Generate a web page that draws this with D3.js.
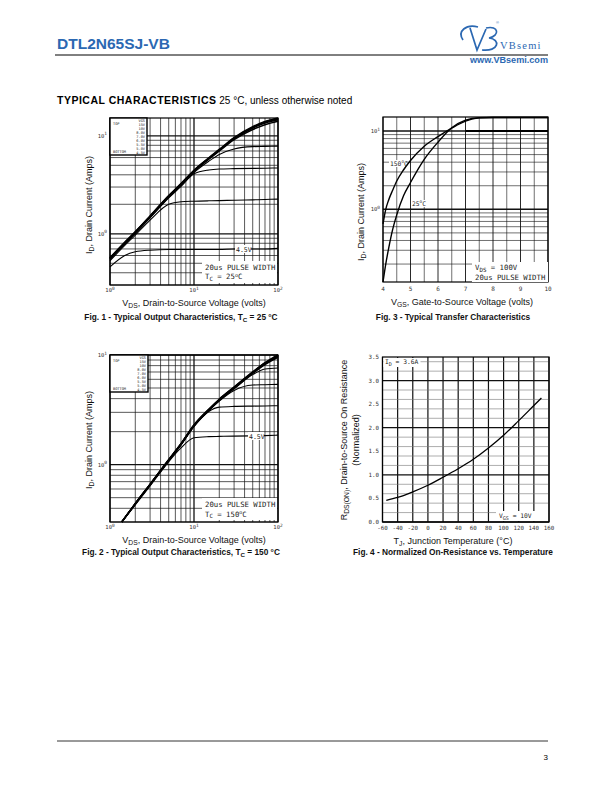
<!DOCTYPE html>
<html><head><meta charset="utf-8">
<script src="https://cdn.jsdelivr.net/npm/d3@7"></script>
<style>body{margin:0;background:#fff}svg{display:block}</style>
</head><body>
<script>
// ---------------- DATA ----------------
// Fig. 1 – output characteristics, Tc = 25 °C
const fig1Vds   = [1, 1.5, 2, 3, 5, 7, 10, 15, 20, 30, 50, 70, 100];
const fig1_15V  = [0.57, 0.82, 1.05, 1.52, 2.45, 3.25, 4.45, 5.95, 7.25, 9.60, 12.4, 14.0, 15.2];
const fig1_10V  = [0.565, 0.815, 1.04, 1.51, 2.43, 3.22, 4.41, 5.90, 7.18, 9.48, 12.2, 13.8, 14.9];
const fig1_8V   = [0.56, 0.81, 1.035, 1.50, 2.41, 3.19, 4.37, 5.84, 7.10, 9.35, 12.0, 13.5, 14.6];
const fig1_7V   = [0.555, 0.80, 1.03, 1.49, 2.39, 3.16, 4.33, 5.77, 7.00, 9.15, 11.6, 13.0, 14.1];
const fig1_6V   = [0.55, 0.795, 1.02, 1.47, 2.36, 3.10, 4.22, 5.50, 6.45, 7.35, 7.75, 7.80, 7.85];
const fig1_55V  = [0.545, 0.79, 1.01, 1.45, 2.32, 3.04, 4.10, 4.48, 4.58, 4.62, 4.65, 4.67, 4.70];
const fig1_5V   = [0.53, 0.76, 0.97, 1.38, 2.00, 2.12, 2.15, 2.17, 2.18, 2.20, 2.22, 2.24, 2.26];
const fig1_45V  = [0.46, 0.60, 0.655, 0.68, 0.69, 0.69, 0.69, 0.69, 0.69, 0.70, 0.70, 0.70, 0.71];
const legendVgs = ["VGS", "15V", "10V", "8.0V", "7.0V", "6.0V", "5.5V", "5.0V", "4.5V"];

// Fig. 2 – output characteristics, Tc = 150 °C
const fig2Vds   = [1.38, 2, 3, 4.5, 7, 10, 15, 20, 30, 50, 70, 100];
const fig2_15V  = [0.30, 0.44, 0.66, 1.00, 1.55, 2.30, 3.20, 3.95, 5.10, 7.00, 8.50, 10.0];
const fig2_10V  = [0.30, 0.44, 0.66, 1.00, 1.55, 2.29, 3.18, 3.93, 5.07, 6.95, 8.42, 9.88];
const fig2_8V   = [0.30, 0.44, 0.66, 0.99, 1.54, 2.28, 3.16, 3.90, 5.03, 6.88, 8.32, 9.74];
const fig2_7V   = [0.30, 0.44, 0.66, 0.99, 1.53, 2.27, 3.14, 3.87, 4.98, 6.80, 8.18, 9.52];
const fig2_6V   = [0.30, 0.44, 0.66, 0.99, 1.53, 2.26, 3.12, 3.84, 4.92, 6.62, 7.45, 7.60];
const fig2_55V  = [0.30, 0.44, 0.65, 0.99, 1.52, 2.25, 3.10, 3.80, 4.75, 5.32, 5.36, 5.40];
const fig2_5V   = [0.30, 0.44, 0.65, 0.98, 1.51, 2.22, 3.05, 3.35, 3.40, 3.42, 3.43, 3.45];
const fig2_45V  = [0.30, 0.43, 0.64, 0.96, 1.42, 1.76, 1.80, 1.81, 1.82, 1.83, 1.84, 1.86];

// Fig. 3 – transfer characteristics
const fig3Vgs   = [4.0, 4.1, 4.2, 4.35, 4.5, 4.75, 5.0, 5.5, 6.0, 6.5, 7.0, 7.5, 8.0, 9.0, 10.0];
const fig3_25C  = [0.118, 0.20, 0.31, 0.55, 0.85, 1.50, 2.20, 4.35, 7.20, 11.0, 13.8, 14.8, 14.9, 14.9, 14.9];
const fig3_150C = [0.65, 1.00, 1.30, 1.75, 2.30, 3.20, 4.20, 6.40, 8.50, 10.9, 13.4, 14.7, 14.9, 14.9, 14.9];

// Fig. 4 – normalized on-resistance vs temperature
const fig4Tj    = [-55, -40, -20, 0, 20, 40, 60, 80, 100, 120, 140, 150];
const fig4Rds   = [0.46, 0.52, 0.64, 0.78, 0.95, 1.13, 1.33, 1.57, 1.84, 2.15, 2.47, 2.63];
const fig4XTicks = [-60, -40, -20, 0, 20, 40, 60, 80, 100, 120, 140, 160];
const fig4YTicks = [0.0, 0.5, 1.0, 1.5, 2.0, 2.5, 3.0, 3.5];
const fig3XTicks = [4, 5, 6, 7, 8, 9, 10];

// ---------------- DRAWING ----------------
const sans = "Liberation Sans, Arial, Helvetica, sans-serif";
const mono = "DejaVu Sans Mono, Liberation Mono, monospace";
const blue = "#2b68b2";
const svg = d3.select("body").append("svg").attr("width", 612).attr("height", 792);

// header
svg.append("text").attr("x", 57).attr("y", 49).text("DTL2N65SJ-VB")
  .attr("font-family", sans).attr("font-weight", "bold").attr("font-size", 15.5).attr("fill", blue);
svg.append("line").attr("x1", 55).attr("x2", 548).attr("y1", 55).attr("y2", 55).attr("stroke", "#000").attr("stroke-width", 1);
svg.append("path").attr("d", "M463,40 C457,31 466,24 478,27 M470,28 L477,50 L486,29 M486,28 C499,25 500,36 489,38 C501,39 499,52 482,50")
  .attr("fill", "none").attr("stroke", blue).attr("stroke-width", 1.7);
svg.append("text").attr("x", 500).attr("y", 49).text("VBsemi").attr("font-family", "Liberation Serif, serif")
  .attr("font-size", 10.5).attr("letter-spacing", 1.2).attr("fill", blue);
svg.append("text").attr("x", 496).attr("y", 24).text("®").attr("font-family", sans).attr("font-size", 4).attr("fill", blue);
svg.append("text").attr("x", 470).attr("y", 63).text("www.VBsemi.com").attr("font-family", sans)
  .attr("font-weight", "bold").attr("font-size", 9).attr("fill", blue).attr("textLength", 78).attr("lengthAdjust", "spacingAndGlyphs");

// section title
const st = svg.append("text").attr("x", 57).attr("y", 104).attr("font-family", sans).attr("font-size", 10);
st.append("tspan").attr("font-weight", "bold").attr("font-size", 10.5).attr("letter-spacing", 0.5).text("TYPICAL CHARACTERISTICS");
st.append("tspan").text(" 25 °C, unless otherwise noted");

// footer
svg.append("line").attr("x1", 57).attr("x2", 548).attr("y1", 741).attr("y2", 741).attr("stroke", "#000").attr("stroke-width", 0.8);
svg.append("text").attr("x", 548).attr("y", 760).attr("text-anchor", "end").text("3")
  .attr("font-family", sans).attr("font-size", 8);

// helpers
function pow10Label(g, x, y, exp, anchor) {
  const t = g.append("text").attr("x", x).attr("y", y).attr("text-anchor", anchor || "middle")
    .attr("font-family", mono).attr("font-size", 5.5).attr("fill", "#333");
  t.append("tspan").text("10");
  t.append("tspan").attr("dy", -2.5).attr("font-size", 4.5).text(exp);
}
function whiteBox(g, x, y, w, h) {
  g.append("rect").attr("x", x).attr("y", y).attr("width", w).attr("height", h).attr("fill", "#fff");
}
function monoText(g, x, y, parts, size) {
  const t = g.append("text").attr("x", x).attr("y", y).attr("font-family", mono).attr("font-size", size || 7).attr("fill", "#222");
  parts.forEach(p => {
    const s = t.append("tspan").text(p.t);
    if (p.sub) s.attr("dy", 1.5).attr("font-size", (size || 7) * 0.8);
    if (p.sup) s.attr("dy", -2.5).attr("font-size", (size || 7) * 0.7);
    if (p.back) s.attr("dy", p.back);
  });
  return t;
}
function sansTitle(g, x, y, parts, size, rotate, bold) {
  const t = g.append("text").attr("x", x).attr("y", y).attr("text-anchor", "middle")
    .attr("font-family", sans).attr("font-size", size).attr("fill", "#111");
  if (bold) t.attr("font-weight", "bold");
  if (rotate) t.attr("transform", `rotate(-90,${x},${y})`);
  parts.forEach(p => {
    const s = t.append("tspan").text(p.t);
    if (p.sub) s.attr("dy", 2).attr("font-size", size * 0.75);
    if (p.back) s.attr("dy", p.back);
  });
}
const lineGen = (x, y) => d3.line().x(d => x(d[0])).y(d => y(d[1])).curve(d3.curveMonotoneX);

function legendBox(g, x0, y0, w, h) {
  g.append("rect").attr("x", x0).attr("y", y0).attr("width", w).attr("height", h)
    .attr("fill", "#fff").attr("stroke", "#000").attr("stroke-width", 1.4);
  const fs = 3.6;
  g.append("text").attr("x", x0 + 3).attr("y", y0 + 6.5).text("TOP").attr("font-family", mono).attr("font-size", fs).attr("fill", "#222");
  g.append("text").attr("x", x0 + 3).attr("y", y0 + h - 2).text("BOTTOM").attr("font-family", mono).attr("font-size", fs).attr("fill", "#222");
  const step = (h - 5) / (legendVgs.length - 1);
  legendVgs.forEach((v, i) => {
    g.append("text").attr("x", x0 + w - 2).attr("y", y0 + 4 + i * step).attr("text-anchor", "end")
      .text(v).attr("font-family", mono).attr("font-size", fs).attr("fill", "#222");
  });
}

function logLogPanel(cfg) {
  const g = svg.append("g");
  const x = d3.scaleLog().domain(cfg.xd).range([cfg.x0, cfg.x1]);
  const y = d3.scaleLog().domain(cfg.yd).range([cfg.y1, cfg.y0]);
  const isMajor = v => Math.abs(Math.log10(v) - Math.round(Math.log10(v))) < 1e-9;
  x.ticks().forEach(v => {
    g.append("line").attr("x1", x(v)).attr("x2", x(v)).attr("y1", cfg.y0).attr("y2", cfg.y1)
      .attr("stroke", "#111").attr("stroke-width", isMajor(v) ? 1.3 : 0.7);
  });
  y.ticks().forEach(v => {
    if (v < cfg.yd[0] || v > cfg.yd[1]) return;
    g.append("line").attr("x1", cfg.x0).attr("x2", cfg.x1).attr("y1", y(v)).attr("y2", y(v))
      .attr("stroke", "#111").attr("stroke-width", isMajor(v) ? 1.3 : 0.7);
  });
  return { g, x, y };
}

const capSize = 8.3;

// ---------- Fig. 1 ----------
(function () {
  const P = logLogPanel({ x0: 110, x1: 278, y0: 118, y1: 285, xd: [1, 100], yd: [0.3, 15.2] });
  const { g, x, y } = P;
  const L = lineGen(x, y);
  [fig1_45V, fig1_5V, fig1_55V, fig1_6V, fig1_7V, fig1_8V, fig1_10V, fig1_15V].forEach((s, i) => {
    g.append("path").attr("d", L(fig1Vds.map((v, k) => [v, s[k]]))).attr("fill", "none")
      .attr("stroke", "#000").attr("stroke-width", i >= 4 ? 1.6 : 1.1);
  });
  g.append("rect").attr("x", 110).attr("y", 118).attr("width", 168).attr("height", 167).attr("fill", "none").attr("stroke", "#000").attr("stroke-width", 1.2);
  legendBox(g, 110, 118, 37, 37);
  whiteBox(g, 235, 245, 16, 8);
  monoText(g, 236, 251.5, [{ t: "4.5V" }], 6.5);
  whiteBox(g, 202, 261, 75, 22);
  monoText(g, 205, 269.5, [{ t: "20us PULSE WIDTH" }], 7.3);
  monoText(g, 205, 279, [{ t: "T" }, { t: "C", sub: true }, { t: " = 25", back: -1.5 }, { t: "o", sup: true }, { t: "C", back: 2.5 }], 7.3);
  pow10Label(svg, 110, 292, "0");
  pow10Label(svg, 194, 292, "1");
  pow10Label(svg, 278, 292, "2");
  pow10Label(svg, 107, y(10) + 2, "1", "end");
  pow10Label(svg, 107, y(1) + 2, "0", "end");
  sansTitle(svg, 194, 306, [{ t: "V" }, { t: "DS", sub: true }, { t: ", Drain-to-Source Voltage (volts)", back: -2 }], 9);
  sansTitle(svg, 92, 205, [{ t: "I" }, { t: "D", sub: true }, { t: ", Drain Current (Amps)", back: -2 }], 9, true);
  sansTitle(svg, 181, 320, [{ t: "Fig. 1 - Typical Output Characteristics, T" }, { t: "C", sub: true }, { t: " = 25 °C", back: -2 }], capSize, false, true);
})();

// ---------- Fig. 2 ----------
(function () {
  const P = logLogPanel({ x0: 110, x1: 278, y0: 355, y1: 522, xd: [1, 100], yd: [0.3, 10] });
  const { g, x, y } = P;
  const L = lineGen(x, y);
  [fig2_45V, fig2_5V, fig2_55V, fig2_6V, fig2_7V, fig2_8V, fig2_10V, fig2_15V].forEach((s, i) => {
    g.append("path").attr("d", L(fig2Vds.map((v, k) => [v, s[k]]))).attr("fill", "none")
      .attr("stroke", "#000").attr("stroke-width", i >= 4 ? 1.6 : 1.1);
  });
  g.append("rect").attr("x", 110).attr("y", 355).attr("width", 168).attr("height", 167).attr("fill", "none").attr("stroke", "#000").attr("stroke-width", 1.2);
  legendBox(g, 110, 355, 38, 37);
  whiteBox(g, 248, 432, 16, 8);
  monoText(g, 249, 438.5, [{ t: "4.5V" }], 6.5);
  whiteBox(g, 202, 498, 75, 22);
  monoText(g, 205, 507, [{ t: "20us PULSE WIDTH" }], 7.3);
  monoText(g, 205, 516.5, [{ t: "T" }, { t: "C", sub: true }, { t: " = 150", back: -1.5 }, { t: "o", sup: true }, { t: "C", back: 2.5 }], 7.3);
  pow10Label(svg, 110, 529, "0");
  pow10Label(svg, 194, 529, "1");
  pow10Label(svg, 278, 529, "2");
  pow10Label(svg, 107, y(10) + 2, "1", "end");
  pow10Label(svg, 107, y(1) + 2, "0", "end");
  sansTitle(svg, 194, 543, [{ t: "V" }, { t: "DS", sub: true }, { t: ", Drain-to-Source Voltage (volts)", back: -2 }], 9);
  sansTitle(svg, 92, 440, [{ t: "I" }, { t: "D", sub: true }, { t: ", Drain Current (Amps)", back: -2 }], 9, true);
  sansTitle(svg, 181, 555, [{ t: "Fig. 2 - Typical Output Characteristics, T" }, { t: "C", sub: true }, { t: " = 150 °C", back: -2 }], capSize, false, true);
})();

// ---------- Fig. 3 ----------
(function () {
  const x0 = 383, x1 = 548, y0 = 117, y1 = 282;
  const g = svg.append("g");
  const x = d3.scaleLinear().domain([4, 10]).range([x0, x1]);
  const y = d3.scaleLog().domain([0.118, 15.1]).range([y1, y0]);
  x.ticks(12).forEach(v => {
    g.append("line").attr("x1", x(v)).attr("x2", x(v)).attr("y1", y0).attr("y2", y1)
      .attr("stroke", "#111").attr("stroke-width", Number.isInteger(v) ? 0.9 : 0.6);
  });
  y.ticks().forEach(v => {
    if (v < 0.118 || v > 15.1) return;
    const maj = v === 1 || v === 10;
    g.append("line").attr("x1", x0).attr("x2", x1).attr("y1", y(v)).attr("y2", y(v))
      .attr("stroke", "#111").attr("stroke-width", maj ? 1.4 : 0.6);
  });
  g.append("line").attr("x1", x(7)).attr("x2", x1).attr("y1", y(10)).attr("y2", y(10)).attr("stroke", "#000").attr("stroke-width", 2.2);
  // label backgrounds go under the curves
  whiteBox(g, 389, 160, 17, 7);
  whiteBox(g, 411, 200, 15, 7);
  const L = lineGen(x, y);
  [fig3_25C, fig3_150C].forEach(s => {
    g.append("path").attr("d", L(fig3Vgs.map((v, k) => [v, s[k]]))).attr("fill", "none")
      .attr("stroke", "#000").attr("stroke-width", 1.4);
  });
  g.append("rect").attr("x", x0).attr("y", y0).attr("width", x1 - x0).attr("height", y1 - y0).attr("fill", "none").attr("stroke", "#000").attr("stroke-width", 1.2);
  monoText(g, 390, 165.5, [{ t: "150" }, { t: "o", sup: true }, { t: "C", back: 2.5 }], 6.3);
  monoText(g, 412, 205.5, [{ t: "25" }, { t: "o", sup: true }, { t: "C", back: 2.5 }], 6.3);
  whiteBox(g, 472, 262, 76, 20);
  monoText(g, 475, 270, [{ t: "V" }, { t: "DS", sub: true }, { t: " = 100V", back: -1.5 }], 7.3);
  monoText(g, 475, 279.5, [{ t: "20us PULSE WIDTH" }], 7.3);
  fig3XTicks.forEach(v => svg.append("text").attr("x", x(v)).attr("y", 291).attr("text-anchor", "middle")
    .attr("font-family", mono).attr("font-size", 6).attr("fill", "#333").text(v));
  pow10Label(svg, 380, y(10) + 2, "1", "end");
  pow10Label(svg, 380, y(1) + 2, "0", "end");
  sansTitle(svg, 462, 305, [{ t: "V" }, { t: "GS", sub: true }, { t: ", Gate-to-Source Voltage (volts)", back: -2 }], 9);
  sansTitle(svg, 364, 212, [{ t: "I" }, { t: "D", sub: true }, { t: ", Drain Current (Amps)", back: -2 }], 9, true);
  sansTitle(svg, 453, 320, [{ t: "Fig. 3 - Typical Transfer Characteristics" }], capSize, false, true);
})();

// ---------- Fig. 4 ----------
(function () {
  const x0 = 382.5, x1 = 549, y0 = 357, y1 = 522;
  const g = svg.append("g");
  const x = d3.scaleLinear().domain([-60, 160]).range([x0, x1]);
  const y = d3.scaleLinear().domain([0, 3.5]).range([y1, y0]);
  fig4XTicks.forEach(v => g.append("line").attr("x1", x(v)).attr("x2", x(v)).attr("y1", y0).attr("y2", y1)
    .attr("stroke", "#111").attr("stroke-width", 1.2));
  y.ticks(14).forEach(v => {
    const maj = Math.abs(v * 2 - Math.round(v * 2)) < 1e-9;
    g.append("line").attr("x1", x0).attr("x2", x1).attr("y1", y(v)).attr("y2", y(v))
      .attr("stroke", maj ? "#111" : "#777").attr("stroke-width", maj ? 1.3 : 0.6);
  });
  const L = lineGen(x, y);
  g.append("path").attr("d", L(fig4Tj.map((v, k) => [v, fig4Rds[k]]))).attr("fill", "none")
    .attr("stroke", "#000").attr("stroke-width", 1.3);
  g.append("rect").attr("x", x0).attr("y", y0).attr("width", x1 - x0).attr("height", y1 - y0).attr("fill", "none").attr("stroke", "#000").attr("stroke-width", 1.2);
  whiteBox(g, 383.5, 358, 37, 9);
  monoText(g, 385, 364, [{ t: "I" }, { t: "D", sub: true }, { t: " = 3.6A", back: -1.5 }], 6.3);
  whiteBox(g, 496, 511, 52, 10);
  monoText(g, 499, 518, [{ t: "V" }, { t: "GS", sub: true }, { t: " = 10V", back: -1.5 }], 6.3);
  fig4XTicks.forEach(v => svg.append("text").attr("x", x(v)).attr("y", 530).attr("text-anchor", "middle")
    .attr("font-family", mono).attr("font-size", 5.8).attr("fill", "#333").text(v));
  fig4YTicks.forEach(v => svg.append("text").attr("x", 379).attr("y", y(v) + 2).attr("text-anchor", "end")
    .attr("font-family", mono).attr("font-size", 5.8).attr("fill", "#333").text(v.toFixed(1)));
  sansTitle(svg, 453, 544, [{ t: "T" }, { t: "J", sub: true }, { t: ", Junction Temperature (°C)", back: -2 }], 9);
  sansTitle(svg, 347, 440, [{ t: "R" }, { t: "DS(ON)", sub: true }, { t: ", Drain-to-Source On Resistance", back: -2 }], 9, true);
  sansTitle(svg, 359, 440, [{ t: "(Normalized)" }], 9, true);
  sansTitle(svg, 453, 555, [{ t: "Fig. 4 - Normalized On-Resistance vs. Temperature" }], capSize, false, true);
})();
</script>
</body></html>
